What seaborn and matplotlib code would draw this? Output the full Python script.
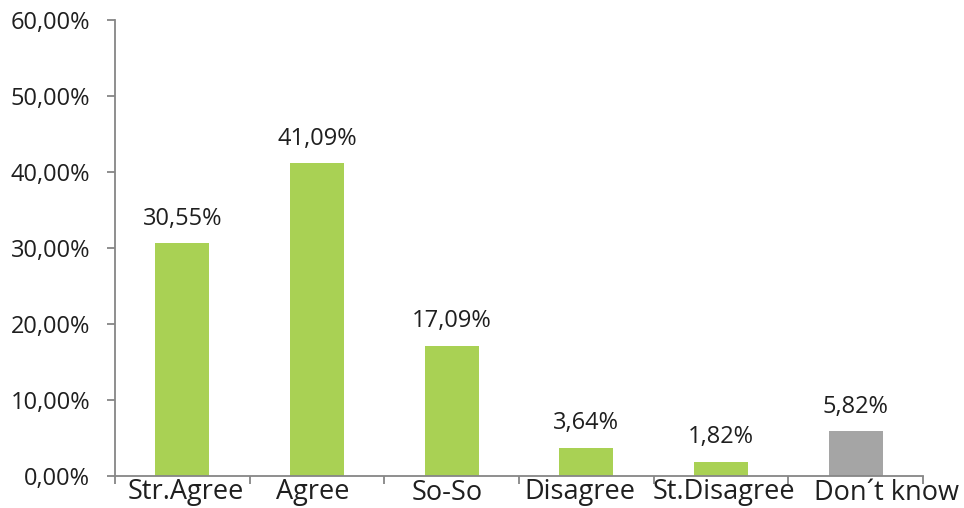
import matplotlib
matplotlib.use("Agg")
import matplotlib.pyplot as plt
import matplotlib.ticker as mticker
import matplotlib.transforms as mtransforms
import pandas as pd
import seaborn as sns

categories = ["Str.Agree", "Agree", "So-So", "Disagree", "St.Disagree", "Don\u00b4t know"]
shares = [30.55, 41.09, 17.09, 3.64, 1.82, 5.82]
bar_colors = ["#A9D154", "#A9D154", "#A9D154", "#A9D154", "#A9D154", "#A5A5A5"]
y_ticks = [0, 10, 20, 30, 40, 50, 60]

sns.set_theme(style="white")
plt.rcParams["font.family"] = ["Open Sans", "DejaVu Sans"]

df = pd.DataFrame({"category": categories, "share": shares})

fig = plt.figure(figsize=(9.64, 5.08), dpi=100)
ax = fig.add_axes([115 / 964, 1 - 475.5 / 508, (923 - 115) / 964, (475.5 - 19.5) / 508])

sns.barplot(data=df, x="category", y="share", hue="category",
            palette=dict(zip(categories, bar_colors)), width=0.4,
            saturation=1, legend=False, linewidth=0, ax=ax)

text_color = "#1f1f1f"
axis_color = "#868686"

for i, v in enumerate(shares):
    ax.annotate(f"{v:.2f}%".replace(".", ","), (i, v), xytext=(0, 9),
                textcoords="offset points", ha="center", va="bottom",
                fontsize=17, color=text_color)

ax.set_xlim(-0.5, len(categories) - 0.5)
ax.set_ylim(0, 60)
ax.set_yticks(y_ticks)
ax.yaxis.set_major_formatter(mticker.FuncFormatter(lambda v, p: f"{v:.2f}%".replace(".", ",")))
ax.set_xticks(range(len(categories)))
ax.set_xticklabels([])
ax.set_xticks([i - 0.5 for i in range(len(categories) + 1)], minor=True)

# category labels, nudged sideways so neighbours don't collide
label_nudge_px = [3, -4, -4, -6, 3, 31]
base = mtransforms.blended_transform_factory(ax.transData, ax.transAxes)
for i, (name, dx) in enumerate(zip(categories, label_nudge_px)):
    tr = base + mtransforms.ScaledTranslation(dx / 100, -3 / 100, fig.dpi_scale_trans)
    ax.text(i, 0, name, transform=tr, ha="center", va="top",
            fontsize=19.5, color=text_color, clip_on=False)

ax.set_xlabel("")
ax.set_ylabel("")
for side in ["top", "right"]:
    ax.spines[side].set_visible(False)
for side in ["left", "bottom"]:
    ax.spines[side].set_color(axis_color)
    ax.spines[side].set_linewidth(1.3)

ax.tick_params(axis="y", which="major", direction="out", length=6, width=1.3,
               color=axis_color, labelsize=17, labelcolor=text_color, pad=12, left=True)
ax.tick_params(axis="x", which="major", length=0)
ax.tick_params(axis="x", which="minor", direction="out", length=6, width=1.3,
               color=axis_color, bottom=True)

fig.savefig("out.png", dpi=100)
